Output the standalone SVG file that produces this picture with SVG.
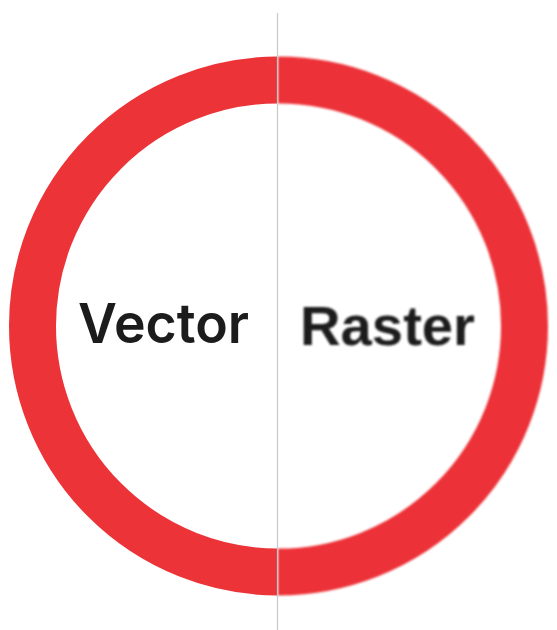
<svg xmlns="http://www.w3.org/2000/svg" width="557" height="630" viewBox="0 0 557 630">
<style>
.ring{fill:none;stroke:#ec3338;stroke-width:47}
.lbl{font-family:"Liberation Sans",Arial,sans-serif;font-weight:bold;font-size:56px;fill:#1c1c1c}
.vec{font-family:Inter,"Liberation Sans",Arial,sans-serif;font-weight:600;font-size:55px;fill:#1c1c1c}
</style>
<defs>
<clipPath id="left"><rect x="0" y="0" width="278" height="630"/></clipPath>
<clipPath id="right"><rect x="278" y="0" width="279" height="630"/></clipPath>
<filter id="blur" x="-5%" y="-5%" width="110%" height="110%"><feGaussianBlur stdDeviation="0.9"/></filter>
</defs>
<rect width="557" height="630" fill="#fff"/>
<g id="vector">
<circle class="ring" cx="278.5" cy="326" r="246" clip-path="url(#left)"/>
<text class="vec" x="78" y="343" textLength="171" lengthAdjust="spacingAndGlyphs">Vector</text>
</g>
<g id="raster" filter="url(#blur)">
<circle class="ring" cx="278.5" cy="326" r="246" clip-path="url(#right)"/>
<text class="lbl" x="300" y="345" textLength="175" lengthAdjust="spacingAndGlyphs" fill="#111">Raster</text>
</g>
<g id="divider">
<line x1="277.5" y1="13" x2="277.5" y2="630" stroke="#c8c8c8" stroke-width="1.2"/>
</g>
</svg>
